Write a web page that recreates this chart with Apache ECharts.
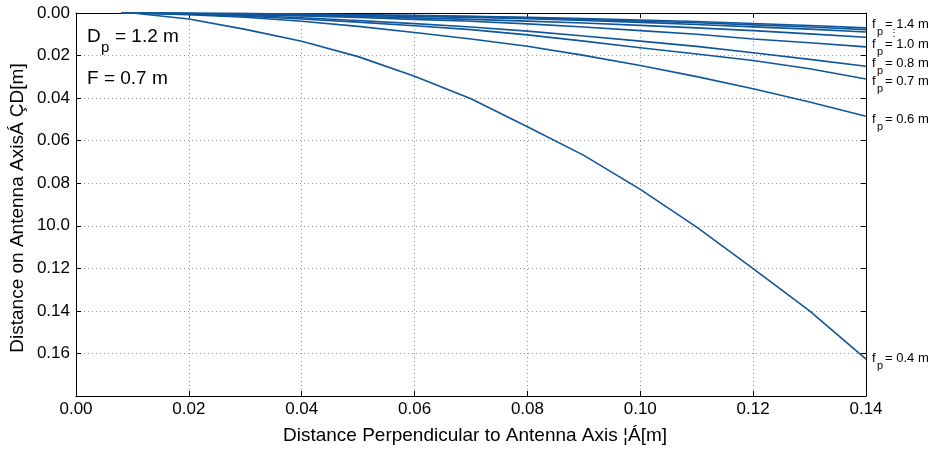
<!DOCTYPE html>
<html>
<head>
<meta charset="utf-8">
<script src="https://cdn.jsdelivr.net/npm/echarts@6/dist/echarts.min.js"></script>
<style>html,body{margin:0;padding:0;background:#fff}#c{width:933px;height:450px}</style>
</head>
<body>
<div id="c"></div>
<script>
// Sample positions (distance perpendicular to antenna axis, m)
const xValues = [0.008, 0.01, 0.02, 0.03, 0.04, 0.05, 0.06, 0.07, 0.08, 0.09, 0.10, 0.11, 0.12, 0.13, 0.14];
// Curves (distance on antenna axis, m) for each f_p
const fp04 = [0, 0, 0.0028, 0.0077, 0.0133, 0.0205, 0.0297, 0.0403, 0.0535, 0.0669, 0.0829, 0.1006, 0.1201, 0.1400, 0.1627];
const fp06 = [0, 0, 0.0008, 0.0020, 0.0039, 0.0063, 0.0092, 0.0122, 0.0156, 0.0199, 0.0247, 0.0299, 0.0356, 0.0418, 0.0485];
const fp07 = [0, 0, 0.0006, 0.0015, 0.0028, 0.0043, 0.0060, 0.0078, 0.0103, 0.0132, 0.0163, 0.0193, 0.0223, 0.0262, 0.0310];
const fp08 = [0, 0, 0.0005, 0.0012, 0.0022, 0.0035, 0.0050, 0.0066, 0.0085, 0.0108, 0.0132, 0.0157, 0.0187, 0.0218, 0.0250];
const fp10 = [0, 0, 0.0003, 0.0008, 0.0014, 0.0021, 0.0030, 0.0039, 0.0051, 0.0066, 0.0083, 0.0100, 0.0122, 0.0140, 0.0159];
const fp11 = [0, 0, 0.0002, 0.0006, 0.0011, 0.0016, 0.0023, 0.0030, 0.0038, 0.0047, 0.0058, 0.0070, 0.0083, 0.0098, 0.0114];
const fp12 = [0, 0, 0.0002, 0.0004, 0.0008, 0.0012, 0.0016, 0.0021, 0.0027, 0.0035, 0.0044, 0.0054, 0.0065, 0.0076, 0.0089];
const fp13 = [0, 0, 0.0001, 0.0003, 0.0006, 0.0009, 0.0013, 0.0017, 0.0023, 0.0030, 0.0038, 0.0046, 0.0056, 0.0066, 0.0078];
const fp14 = [0, 0, 0.0001, 0.0003, 0.0005, 0.0008, 0.0011, 0.0015, 0.0020, 0.0026, 0.0033, 0.0040, 0.0049, 0.0059, 0.0070];

const xTickLabels = ['0.00', '0.02', '0.04', '0.06', '0.08', '0.10', '0.12', '0.14'];
const yTickLabels = ['0.00', '0.02', '0.04', '0.06', '0.08', '10.0', '0.12', '0.14', '0.16', ''];
const seriesList = [fp04, fp06, fp07, fp08, fp10, fp11, fp12, fp13, fp14];
const curveLabels = ['1.4 m', '1.0 m', '0.8 m', '0.7 m', '0.6 m', '0.4 m'];

const xTitle = 'Distance Perpendicular to Antenna Axis ¦Á[m]';
const yTitle = 'Distance on Antenna AxisÁ ÇD[m]';

const FONT = 'Liberation Sans, Arial, sans-serif';
const LINE = '#10569a';

const chart = echarts.init(document.getElementById('c'), null, {renderer: 'canvas'});

const series = seriesList.map(arr => ({
  type: 'line',
  data: arr.map((v, i) => [xValues[i], v]),
  showSymbol: false,
  symbol: 'none',
  lineStyle: {color: LINE, width: 1.6},
  animation: false,
  silent: true
}));

function labelGroup(x, yc, text) {
  return {
    type: 'group', x: x, y: yc,
    children: [
      {type: 'text', x: 0, y: 0, style: {text: 'f', font: '13px ' + FONT, fill: '#000', textVerticalAlign: 'middle'}},
      {type: 'text', x: 5, y: 8, style: {text: 'p', font: '11px ' + FONT, fill: '#000', textVerticalAlign: 'middle'}},
      {type: 'text', x: 13, y: 0, style: {text: '= ' + text, font: '13px ' + FONT, fill: '#000', textVerticalAlign: 'middle'}}
    ]
  };
}

const labelY = [24, 44, 63, 81, 119, 358];
const graphics = [];
curveLabels.forEach((t, i) => graphics.push(labelGroup(872, labelY[i], t)));
graphics.push({type: 'text', x: 889, y: 28, style: {text: '⋮', font: '10px ' + FONT, fill: '#000'}});
graphics.push({
  type: 'group', x: 87, y: 37,
  children: [
    {type: 'text', x: 0, y: 0, style: {text: 'D', font: '19px ' + FONT, fill: '#000', textVerticalAlign: 'middle'}},
    {type: 'text', x: 14, y: 11, style: {text: 'p', font: '15px ' + FONT, fill: '#000', textVerticalAlign: 'middle'}},
    {type: 'text', x: 28, y: 0, style: {text: '= 1.2 m', font: '19px ' + FONT, fill: '#000', textVerticalAlign: 'middle'}}
  ]
});
graphics.push({type: 'text', x: 87, y: 79, style: {text: 'F = 0.7 m', font: '19px ' + FONT, fill: '#000', textVerticalAlign: 'middle'}});
graphics.push({type: 'text', x: 18, y: 208, rotation: Math.PI / 2,
  style: {text: yTitle, font: '19px ' + FONT, fill: '#000', textAlign: 'center', textVerticalAlign: 'middle'}});

const axisCommonX = {
  type: 'value', min: 0, max: 0.14, interval: 0.02,
  axisLine: {show: true, onZero: false, lineStyle: {color: '#000', width: 1}},
  axisTick: {show: true, inside: true, length: 5, lineStyle: {color: '#000'}}
};
const axisCommonY = {
  type: 'value', min: 0, max: 0.18, interval: 0.02, inverse: true,
  axisLine: {show: true, onZero: false, lineStyle: {color: '#000', width: 1}},
  axisTick: {show: true, inside: true, length: 5, lineStyle: {color: '#000'}}
};

chart.setOption({
  animation: false,
  backgroundColor: '#fff',
  grid: {left: 76, right: 67, top: 13, bottom: 53, containLabel: false},
  xAxis: [
    Object.assign({}, axisCommonX, {
      position: 'bottom',
      name: xTitle, nameLocation: 'middle', nameGap: 30,
      nameTextStyle: {fontFamily: FONT, fontSize: 19, color: '#000', padding: [0, 0, 0, 8]},
      axisLabel: {fontFamily: FONT, fontSize: 17, color: '#000', margin: 5,
        formatter: v => xTickLabels[Math.round(v / 0.02)] || ''},
      splitLine: {show: true, lineStyle: {color: '#999', type: [1, 3], width: 1}}
    }),
    Object.assign({}, axisCommonX, {position: 'top', axisLabel: {show: false}, splitLine: {show: false}})
  ],
  yAxis: [
    Object.assign({}, axisCommonY, {
      position: 'left',
      axisLabel: {fontFamily: FONT, fontSize: 17, color: '#000', margin: 6,
        formatter: v => yTickLabels[Math.round(v / 0.02)] || ''},
      splitLine: {show: true, lineStyle: {color: '#999', type: [1, 3], width: 1}}
    }),
    Object.assign({}, axisCommonY, {position: 'right', axisLabel: {show: false}, splitLine: {show: false}})
  ],
  series: series,
  graphic: graphics
});
</script>
</body>
</html>
